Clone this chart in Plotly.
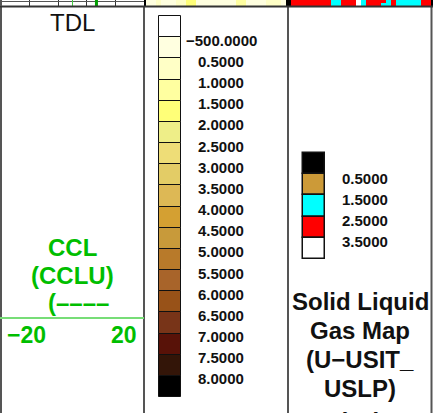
import numpy as np
import plotly.graph_objects as go

W, H = 433, 413
FONT = "Liberation Sans, Arial, sans-serif"
GREEN = "#00BE00"

# ---- data -------------------------------------------------------------
tdl_title = "TDL"
ccl_title = ["CCL", "(CCLU)", "(––––"]
ccl_range = [-20, 20]
ccl_scale_labels = ["−20", "20"]
ccl_depth = [0.0, 1.0]          # top of log, relative depth of the strip
ccl_values = [6.7, 6.7]
ccl_zero = [0.0, 0.0]

# image track (middle) legend
img_labels = ["−500.0000", "0.5000", "1.0000", "1.5000", "2.0000", "2.5000",
              "3.0000", "3.5000", "4.0000", "4.5000", "5.0000", "5.5000",
              "6.0000", "6.5000", "7.0000", "7.5000", "8.0000"]
img_bounds = [-500, 0.5, 1.0, 1.5, 2.0, 2.5, 3.0, 3.5, 4.0, 4.5, 5.0, 5.5,
              6.0, 6.5, 7.0, 7.5, 8.0]
img_colors = ["#FFFFFF", "#FFFFE0", "#FFFFC6", "#FFFFA0", "#FFFF78", "#EEEE88",
              "#EEDD77", "#E3CC66", "#DDB855", "#D4A032", "#C89A3A", "#B87A2A",
              "#A8642A", "#985218", "#783418", "#581208", "#331508", "#000000"]
# last rows of the image visible at the top of the header
img_strip = [9, 0.2, 0.2, 0.7, 0.2, 0.2, 0.2, 0.7, 0.7, 1.7, 1.7, 0.2, 0.2, 0.2,
             0.2, 0.2, 0.2, 0.2, 0.2, 1.2, 1.2, 0.2, 0.2, 0.2, 0.2, 0.7, 0.7,
             0.7, 0.2, 9]

# solid liquid gas map legend
slg_labels = ["0.5000", "1.5000", "2.5000", "3.5000"]
slg_bounds = [0.5, 1.5, 2.5, 3.5]
slg_colors = ["#000000", "#CC9A38", "#00FFFF", "#FF0000", "#FFFFFF"]
slg_title = ["Solid Liquid", "Gas Map", "(U−USIT_", "USLP)", "(––)"]
slg_strip = [
    [3, 3, 3, 3, 3, 3, 3, 3, 2, 2, 3, 3, 3, 4, 2, 3, 3, 3, 3, 2, 3, 2, 2, 2, 2, 2, 3, 3, 0],
    [3, 3, 3, 3, 3, 3, 3, 3, 2, 2, 3, 3, 3, 4, 2, 3, 3, 3, 2, 2, 3, 2, 2, 2, 2, 2, 3, 3, 0],
]


def stepped(colors):
    n = len(colors)
    cs = []
    for k, c in enumerate(colors):
        cs.append([k / n, c])
        cs.append([(k + 1) / n, c])
    return cs


fig = go.Figure()

# ---- top strips (end of the logs above the header) --------------------
img_idx = np.digitize(img_strip, img_bounds)
fig.add_trace(go.Heatmap(
    z=[img_idx], x0=143.5, dx=5, y0=3, dy=6,
    colorscale=stepped(img_colors), zmin=-0.5, zmax=len(img_colors) - 0.5,
    showscale=False, hoverinfo="skip", xaxis="x", yaxis="y"))

slg_idx = np.digitize(slg_strip, slg_bounds)
fig.add_trace(go.Heatmap(
    z=slg_idx, x0=293.5, dx=5, y0=1.5, dy=3,
    colorscale=stepped(slg_colors), zmin=-0.5, zmax=len(slg_colors) - 0.5,
    showscale=False, hoverinfo="skip", xaxis="x", yaxis="y"))

# CCL curve in its own small track axis
fig.add_trace(go.Scatter(x=ccl_zero, y=ccl_depth, mode="lines",
                         line=dict(color="#44CC44", width=1),
                         hoverinfo="skip", xaxis="x2", yaxis="y2"))
fig.add_trace(go.Scatter(x=ccl_values, y=ccl_depth, mode="lines",
                         line=dict(color="#00A000", width=3),
                         hoverinfo="skip", xaxis="x2", yaxis="y2"))

# ---- legend boxes ------------------------------------------------------
img_top, img_bot = 16, 397
img_h = (img_bot - img_top) / len(img_colors)
img_y = [img_top + img_h * (k + 0.5) for k in range(len(img_colors))]
fig.add_trace(go.Bar(
    orientation="h", y=img_y, x=[22] * len(img_colors), base=[159] * len(img_colors),
    width=img_h, marker=dict(color=img_colors, line=dict(color="#111111", width=1)),
    hoverinfo="skip", xaxis="x", yaxis="y"))

slg_top, slg_bot = 153, 259
slg_h = (slg_bot - slg_top) / len(slg_colors)
slg_y = [slg_top + slg_h * (k + 0.5) for k in range(len(slg_colors))]
fig.add_trace(go.Bar(
    orientation="h", y=slg_y, x=[22] * len(slg_colors), base=[303] * len(slg_colors),
    width=slg_h, marker=dict(color=slg_colors, line=dict(color="#111111", width=1.5)),
    hoverinfo="skip", xaxis="x", yaxis="y"))

ann = []
for k, lab in enumerate(img_labels):
    ann.append(dict(x=221, y=img_top + img_h * (k + 1) + 3, text="<b>%s</b>" % lab,
                    font=dict(size=15, color="#111111", family=FONT)))
for k, lab in enumerate(slg_labels):
    ann.append(dict(x=364.5, y=slg_top + slg_h * (k + 1) + 4, text="<b>%s</b>" % lab,
                    font=dict(size=15, color="#111111", family=FONT)))

# ---- titles ------------------------------------------------------------
ann.append(dict(x=72.5, y=22.5, text=tdl_title,
                font=dict(size=24, color="#111111", family=FONT)))
for k, t in enumerate(ccl_title):
    ann.append(dict(x=72 if k < 2 else 78, y=247.5 + 27.5 * k, text="<b>%s</b>" % t,
                    font=dict(size=24, color=GREEN, family=FONT)))
ann.append(dict(x=5, y=335, text="<b>%s</b>" % ccl_scale_labels[0], xanchor="left",
                font=dict(size=23, color=GREEN, family=FONT)))
ann.append(dict(x=139, y=335, text="<b>%s</b>" % ccl_scale_labels[1], xanchor="right",
                font=dict(size=23, color=GREEN, family=FONT)))
for k, t in enumerate(slg_title):
    ann.append(dict(x=360, y=301 + 29 * k + (4 if k == 4 else 0), text="<b>%s</b>" % t,
                    font=dict(size=24, color="#111111", family=FONT)))
for a in ann:
    a.setdefault("xanchor", "center")
    a.setdefault("yanchor", "middle")
    a.update(xref="x", yref="y", showarrow=False)
    if a["y"] > H:
        # last title line runs off the bottom of the header, as in the log
        a.update(yref="paper", y=1 - a["y"] / H)

# ---- track frames ------------------------------------------------------
shapes = []
for xv in [1, 144, 288, 431.5]:
    shapes.append(dict(type="line", xref="x", yref="y", x0=xv, x1=xv, y0=6, y1=H,
                       line=dict(color="#555555", width=2), layer="above"))
shapes.append(dict(type="line", xref="x", yref="y", x0=0, x1=W, y0=6.5, y1=6.5,
                   line=dict(color="#333333", width=2), layer="above"))
shapes.append(dict(type="line", xref="x", yref="y", x0=0, x1=144, y0=318, y1=318,
                   line=dict(color="#77DD77", width=2), layer="above"))
shapes.append(dict(type="line", xref="x", yref="y", x0=1, x1=1, y0=0, y1=6,
                   line=dict(color="#555555", width=2), layer="above"))

fig.update_layout(
    width=W, height=H, margin=dict(l=0, r=0, t=0, b=0),
    paper_bgcolor="white", plot_bgcolor="white",
    showlegend=False, barmode="overlay", bargap=0,
    annotations=ann, shapes=shapes,
    xaxis=dict(range=[0, W], domain=[0, 1], visible=False, fixedrange=True),
    yaxis=dict(range=[H, 0], domain=[0, 1], visible=False, fixedrange=True),
    xaxis2=dict(range=ccl_range, domain=[1 / W, 144 / W], anchor="y2",
                showgrid=True, gridcolor="#333333", gridwidth=1, tick0=4, dtick=8,
                showticklabels=False, zeroline=False, ticks="", fixedrange=True),
    yaxis2=dict(range=[1.0, 0.0], domain=[1 - 6 / H, 1], anchor="x2",
                showgrid=True, gridcolor="#555555", gridwidth=1,
                tickvals=[0.2, 0.85], showticklabels=False, zeroline=False,
                ticks="", fixedrange=True),
)

fig.write_html("out.html", config={"displayModeBar": False},
               post_script="document.body.style.margin='0';")
